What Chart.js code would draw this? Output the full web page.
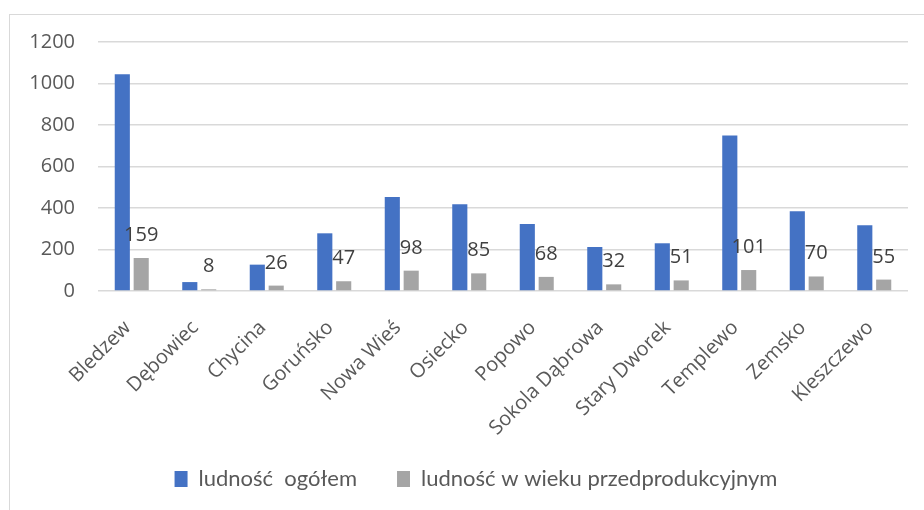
<!DOCTYPE html>
<html>
<head>
<meta charset="utf-8">
<script src="https://cdn.jsdelivr.net/npm/chart.js@4"></script>
<style>
  body { margin: 0; overflow: hidden; background: #fff; }
  .ramka { position: absolute; left: 9px; top: 14px; width: 940px; height: 520px; border: 1px solid #d9d9d9; }
  #wykres { position: absolute; left: 0; top: 0; }
</style>
</head>
<body>
<div class="ramka"></div>
<canvas id="wykres" width="924" height="510"></canvas>
<script>
// dane z wykresu
var miejscowosci = ['Bledzew', 'Dębowiec', 'Chycina', 'Goruńsko', 'Nowa Wieś', 'Osiecko', 'Popowo', 'Sokola Dąbrowa', 'Stary Dworek', 'Templewo', 'Zemsko', 'Kleszczewo'];
var ludnoscOgolem = [1045, 43, 127, 278, 453, 418, 323, 212, 230, 750, 384, 317];
var ludnoscPrzed = [159, 8, 26, 47, 98, 85, 68, 32, 51, 101, 70, 55];
var osY = [0, 200, 400, 600, 800, 1000, 1200];

// etykiety nad szarymi słupkami
var etykiety = {
  id: 'etykiety',
  afterLayout: function(chart) {
    // legenda troche w prawo i w gore, jak w oryginale
    chart.legend.left += 22;
    chart.legend.right += 22;
    chart.legend.top -= 10;
    chart.legend.bottom -= 10;
  },
  afterDatasetsDraw: function(chart) {
    var ctx = chart.ctx;
    var meta = chart.getDatasetMeta(1);
    ctx.save();
    ctx.font = '20px "Open Sans"';
    ctx.fillStyle = '#404040';
    ctx.textAlign = 'center';
    ctx.textBaseline = 'alphabetic';
    meta.data.forEach(function(bar, i) {
      ctx.fillText(ludnoscPrzed[i], bar.x, bar.y - 17);
    });
    ctx.restore();
  }
};

new Chart(document.getElementById('wykres'), {
  type: 'bar',
  data: {
    labels: miejscowosci,
    datasets: [
      { label: 'ludność  ogółem', backgroundColor: '#4472C4', data: ludnoscOgolem },
      { label: 'ludność w wieku przedprodukcyjnym', backgroundColor: '#A5A5A5', data: ludnoscPrzed }
    ]
  },
  options: {
    responsive: false,
    animation: false,
    categoryPercentage: 0.56,
    barPercentage: 0.8,
    layout: { padding: { top: 42, right: 16, left: 0, bottom: 0 } },
    plugins: {
      tooltip: { enabled: false },
      legend: {
        position: 'bottom',
        labels: {
          boxWidth: 13,
          boxHeight: 16,
          padding: 40,
          color: '#595959',
          font: { family: 'Lato', size: 22 }
        }
      }
    },
    scales: {
      x: {
        grid: { display: false },
        border: { display: false },
        afterFit: function(s) { s.height = 147; },
        ticks: {
          color: '#595959',
          font: { family: 'Open Sans', size: 20 },
          maxRotation: 45,
          minRotation: 45,
          padding: 17,
          labelOffset: -4
        }
      },
      y: {
        min: 0,
        max: 1200,
        afterFit: function(s) { s.width = 98; },
        afterBuildTicks: function(s) { s.ticks = osY.map(function(v) { return { value: v }; }); },
        grid: { color: '#d9d9d9', lineWidth: 1.5, drawTicks: false },
        border: { display: false },
        ticks: {
          color: '#595959',
          font: { family: 'Open Sans', size: 20 },
          padding: 23,
          callback: function(v) { return String(v); }
        }
      }
    }
  },
  plugins: [etykiety]
});
</script>
</body>
</html>
